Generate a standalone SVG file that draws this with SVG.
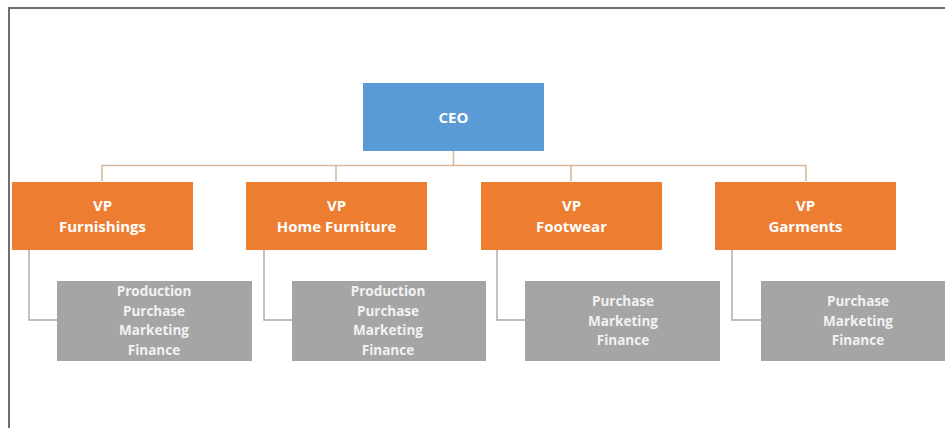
<svg xmlns="http://www.w3.org/2000/svg" width="945" height="428" viewBox="0 0 945 428">
<style>
.ceo{fill:#5B9BD5}
.vp{fill:#ED7D31}
.dept{fill:#A5A5A5}
.t{font-family:"Open Sans","Liberation Sans",sans-serif;font-weight:bold;fill:#FFFFFF;text-anchor:middle;dominant-baseline:central}
.t1{font-size:15px}
.t2{font-size:13.5px;fill:#F2F2F2}
.c1{fill:none;stroke:#D8B89E;stroke-width:1.6}
.c2{fill:none;stroke:#A8A8A8;stroke-width:1.4}
</style>
<rect x="0" y="0" width="945" height="428" fill="#FFFFFF"/>
<path d="M9,428 V8 H945" fill="none" stroke="#6E6E6E" stroke-width="2"/>
<g id="connectors">
<path class="c1" d="M453.5,151 V165.5"/>
<path class="c1" d="M102,181 V165.5 H806 V181"/>
<path class="c1" d="M336,165.5 V181"/>
<path class="c1" d="M571,165.5 V181"/>
<path class="c2" d="M29,250 V320 H57"/>
<path class="c2" d="M264,250 V320 H292"/>
<path class="c2" d="M497,250 V320 H525"/>
<path class="c2" d="M732,250 V320 H761"/>
</g>
<g id="ceo">
<rect class="ceo" x="363" y="83" width="181" height="68"/>
<text class="t t1" x="453.5" y="117">CEO</text>
</g>
<g id="vp-furnishings">
<rect class="vp" x="12" y="182" width="181" height="68"/>
<text class="t t1" x="102.5" y="205">VP</text>
<text class="t t1" x="102.5" y="226">Furnishings</text>
</g>
<g id="vp-home-furniture">
<rect class="vp" x="246" y="182" width="181" height="68"/>
<text class="t t1" x="336.5" y="205">VP</text>
<text class="t t1" x="336.5" y="226">Home Furniture</text>
</g>
<g id="vp-footwear">
<rect class="vp" x="481" y="182" width="181" height="68"/>
<text class="t t1" x="571.5" y="205">VP</text>
<text class="t t1" x="571.5" y="226">Footwear</text>
</g>
<g id="vp-garments">
<rect class="vp" x="715" y="182" width="181" height="68"/>
<text class="t t1" x="805.5" y="205">VP</text>
<text class="t t1" x="805.5" y="226">Garments</text>
</g>
<g id="dept-furnishings">
<rect class="dept" x="57" y="281" width="195" height="80"/>
<text class="t t2" x="154" y="291">Production</text>
<text class="t t2" x="154" y="311">Purchase</text>
<text class="t t2" x="154" y="330">Marketing</text>
<text class="t t2" x="154" y="350">Finance</text>
</g>
<g id="dept-home-furniture">
<rect class="dept" x="292" y="281" width="194" height="80"/>
<text class="t t2" x="388" y="291">Production</text>
<text class="t t2" x="388" y="311">Purchase</text>
<text class="t t2" x="388" y="330">Marketing</text>
<text class="t t2" x="388" y="350">Finance</text>
</g>
<g id="dept-footwear">
<rect class="dept" x="525" y="281" width="195" height="80"/>
<text class="t t2" x="623" y="301">Purchase</text>
<text class="t t2" x="623" y="320.5">Marketing</text>
<text class="t t2" x="623" y="340">Finance</text>
</g>
<g id="dept-garments">
<rect class="dept" x="761" y="281" width="184" height="80"/>
<text class="t t2" x="858" y="301">Purchase</text>
<text class="t t2" x="858" y="320.5">Marketing</text>
<text class="t t2" x="858" y="340">Finance</text>
</g>
</svg>
